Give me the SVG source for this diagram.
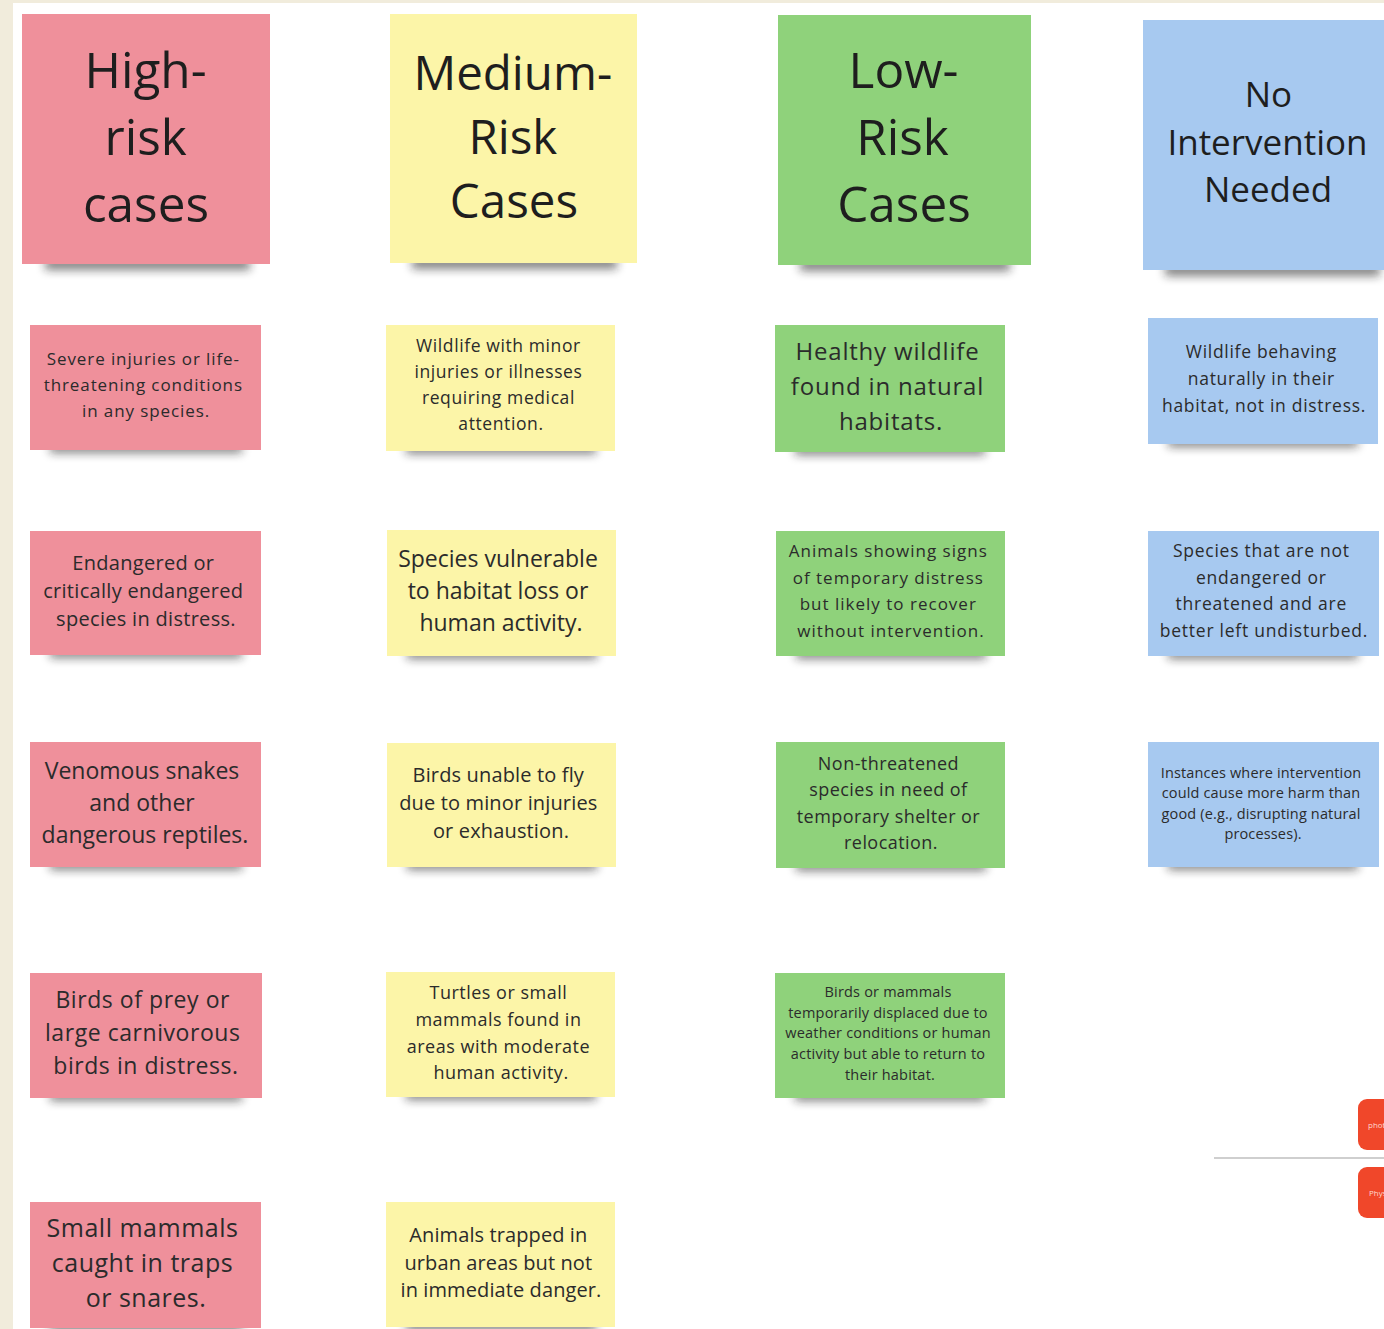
<svg xmlns="http://www.w3.org/2000/svg" width="1384" height="1329" viewBox="0 0 1384 1329">
  <defs>
    <filter id="soft" x="-20%" y="-200%" width="140%" height="500%">
      <feGaussianBlur stdDeviation="5"/>
    </filter>
    <style>
      .txt { font-family: "Open Sans", "Noto Sans", "DejaVu Sans", sans-serif; fill: #2b2b2b; text-anchor: middle; }
      .head { fill: #1e1e1e; }
      .shadow { fill: #1a1a1a; opacity: 0.55; filter: url(#soft); }
      .red { fill: #ef909b; }
      .yellow { fill: #fcf5a8; }
      .green { fill: #8fd27b; }
      .blue { fill: #a7c9f0; }
      .tab { fill: #f0472a; }
    </style>
  </defs>

  <!-- board -->
  <rect x="0" y="0" width="1384" height="1329" fill="#ffffff"/>
  <rect x="0" y="0" width="1384" height="3" fill="#f1ecdc"/>
  <rect x="0" y="0" width="13" height="1329" fill="#f1ecdc"/>

  <!-- column headers -->
  <g id="head-high">
    <rect class="shadow" x="45" y="258" width="205" height="12"/>
    <rect class="red" x="22" y="14" width="248" height="250"/>
    <text class="txt head" font-size="49.5">
      <tspan x="152" y="88">High-</tspan>
      <tspan x="152" y="155">risk</tspan>
      <tspan x="146" y="222">cases</tspan>
    </text>
  </g>
  <g id="head-medium">
    <rect class="shadow" x="412" y="257" width="205" height="12"/>
    <rect class="yellow" x="390" y="14" width="247" height="249"/>
    <text class="txt head" font-size="47.5">
      <tspan x="519" y="90">Medium-</tspan>
      <tspan x="519" y="154">Risk</tspan>
      <tspan x="514" y="218">Cases</tspan>
    </text>
  </g>
  <g id="head-low">
    <rect class="shadow" x="800" y="259" width="210" height="12"/>
    <rect class="green" x="778" y="15" width="253" height="250"/>
    <text class="txt head" font-size="49.5">
      <tspan x="910" y="88">Low-</tspan>
      <tspan x="909" y="155">Risk</tspan>
      <tspan x="904" y="222">Cases</tspan>
    </text>
  </g>
  <g id="head-none">
    <rect class="shadow" x="1165" y="264" width="215" height="12"/>
    <rect class="blue" x="1143" y="20" width="245" height="250"/>
    <text class="txt head" font-size="35">
      <tspan x="1273" y="107">No</tspan>
      <tspan x="1272" y="155">Intervention</tspan>
      <tspan x="1268" y="202">Needed</tspan>
    </text>
  </g>

  <!-- row 1 -->
  <g id="high-1">
    <rect class="shadow" x="50" y="443" width="192" height="10"/>
    <rect class="red" x="30" y="325" width="231" height="125"/>
    <text class="txt" font-size="17" letter-spacing="0.9">
      <tspan x="146" y="365">Severe injuries or life-</tspan>
      <tspan x="146" y="391">threatening conditions</tspan>
      <tspan x="146" y="417">in any species.</tspan>
    </text>
  </g>
  <g id="medium-1">
    <rect class="shadow" x="406" y="444" width="190" height="10"/>
    <rect class="yellow" x="386" y="325" width="229" height="126"/>
    <text class="txt" font-size="17.5" letter-spacing="0.6">
      <tspan x="501" y="352">Wildlife with minor</tspan>
      <tspan x="501" y="378">injuries or illnesses</tspan>
      <tspan x="501" y="404">requiring medical</tspan>
      <tspan x="501" y="430">attention.</tspan>
    </text>
  </g>
  <g id="low-1">
    <rect class="shadow" x="795" y="445" width="190" height="10"/>
    <rect class="green" x="775" y="325" width="230" height="127"/>
    <text class="txt" font-size="24" letter-spacing="0.8">
      <tspan x="891" y="360">Healthy wildlife</tspan>
      <tspan x="891" y="395">found in natural</tspan>
      <tspan x="891" y="430">habitats.</tspan>
    </text>
  </g>
  <g id="none-1">
    <rect class="shadow" x="1168" y="437" width="190" height="10"/>
    <rect class="blue" x="1148" y="318" width="230" height="126"/>
    <text class="txt" font-size="17.5" letter-spacing="0.7">
      <tspan x="1264" y="358">Wildlife behaving</tspan>
      <tspan x="1264" y="385">naturally in their</tspan>
      <tspan x="1264" y="412">habitat, not in distress.</tspan>
    </text>
  </g>

  <!-- row 2 -->
  <g id="high-2">
    <rect class="shadow" x="50" y="648" width="192" height="10"/>
    <rect class="red" x="30" y="531" width="231" height="124"/>
    <text class="txt" font-size="20" letter-spacing="0.3">
      <tspan x="146" y="570">Endangered or</tspan>
      <tspan x="146" y="598">critically endangered</tspan>
      <tspan x="146" y="626">species in distress.</tspan>
    </text>
  </g>
  <g id="medium-2">
    <rect class="shadow" x="407" y="649" width="190" height="10"/>
    <rect class="yellow" x="387" y="530" width="229" height="126"/>
    <text class="txt" font-size="23">
      <tspan x="501" y="567">Species vulnerable</tspan>
      <tspan x="501" y="599">to habitat loss or</tspan>
      <tspan x="501" y="631">human activity.</tspan>
    </text>
  </g>
  <g id="low-2">
    <rect class="shadow" x="796" y="649" width="190" height="10"/>
    <rect class="green" x="776" y="531" width="229" height="125"/>
    <text class="txt" font-size="17" letter-spacing="1">
      <tspan x="891" y="557">Animals showing signs</tspan>
      <tspan x="891" y="584">of temporary distress</tspan>
      <tspan x="891" y="610">but likely to recover</tspan>
      <tspan x="891" y="637">without intervention.</tspan>
    </text>
  </g>
  <g id="none-2">
    <rect class="shadow" x="1168" y="649" width="190" height="10"/>
    <rect class="blue" x="1148" y="531" width="231" height="125"/>
    <text class="txt" font-size="17.5" letter-spacing="0.75">
      <tspan x="1264" y="557">Species that are not</tspan>
      <tspan x="1264" y="584">endangered or</tspan>
      <tspan x="1264" y="610">threatened and are</tspan>
      <tspan x="1264" y="637">better left undisturbed.</tspan>
    </text>
  </g>

  <!-- row 3 -->
  <g id="high-3">
    <rect class="shadow" x="50" y="860" width="192" height="10"/>
    <rect class="red" x="30" y="742" width="231" height="125"/>
    <text class="txt" font-size="23">
      <tspan x="145" y="779">Venomous snakes</tspan>
      <tspan x="145" y="811">and other</tspan>
      <tspan x="145" y="843">dangerous reptiles.</tspan>
    </text>
  </g>
  <g id="medium-3">
    <rect class="shadow" x="407" y="860" width="190" height="10"/>
    <rect class="yellow" x="387" y="743" width="229" height="124"/>
    <text class="txt" font-size="20" letter-spacing="0.15">
      <tspan x="501" y="782">Birds unable to fly</tspan>
      <tspan x="501" y="810">due to minor injuries</tspan>
      <tspan x="501" y="838">or exhaustion.</tspan>
    </text>
  </g>
  <g id="low-3">
    <rect class="shadow" x="796" y="861" width="190" height="10"/>
    <rect class="green" x="776" y="742" width="229" height="126"/>
    <text class="txt" font-size="18" letter-spacing="0.45">
      <tspan x="891" y="770">Non-threatened</tspan>
      <tspan x="891" y="796">species in need of</tspan>
      <tspan x="891" y="823">temporary shelter or</tspan>
      <tspan x="891" y="849">relocation.</tspan>
    </text>
  </g>
  <g id="none-3">
    <rect class="shadow" x="1168" y="860" width="190" height="10"/>
    <rect class="blue" x="1148" y="742" width="231" height="125"/>
    <text class="txt" font-size="14.5" letter-spacing="0.15">
      <tspan x="1263" y="778">Instances where intervention</tspan>
      <tspan x="1263" y="798">could cause more harm than</tspan>
      <tspan x="1263" y="819">good (e.g., disrupting natural</tspan>
      <tspan x="1263" y="839">processes).</tspan>
    </text>
  </g>

  <!-- row 4 -->
  <g id="high-4">
    <rect class="shadow" x="50" y="1091" width="192" height="10"/>
    <rect class="red" x="30" y="973" width="232" height="125"/>
    <text class="txt" font-size="23" letter-spacing="0.55">
      <tspan x="146" y="1008">Birds of prey or</tspan>
      <tspan x="146" y="1041">large carnivorous</tspan>
      <tspan x="146" y="1074">birds in distress.</tspan>
    </text>
  </g>
  <g id="medium-4">
    <rect class="shadow" x="406" y="1090" width="190" height="10"/>
    <rect class="yellow" x="386" y="972" width="229" height="125"/>
    <text class="txt" font-size="18" letter-spacing="0.5">
      <tspan x="501" y="999">Turtles or small</tspan>
      <tspan x="501" y="1026">mammals found in</tspan>
      <tspan x="501" y="1053">areas with moderate</tspan>
      <tspan x="501" y="1079">human activity.</tspan>
    </text>
  </g>
  <g id="low-4">
    <rect class="shadow" x="795" y="1091" width="190" height="10"/>
    <rect class="green" x="775" y="973" width="230" height="125"/>
    <text class="txt" font-size="14.5" letter-spacing="0.2">
      <tspan x="890" y="997">Birds or mammals</tspan>
      <tspan x="890" y="1018">temporarily displaced due to</tspan>
      <tspan x="890" y="1038">weather conditions or human</tspan>
      <tspan x="890" y="1059">activity but able to return to</tspan>
      <tspan x="890" y="1080">their habitat.</tspan>
    </text>
  </g>

  <!-- row 5 -->
  <g id="high-5">
    <rect class="shadow" x="50" y="1322" width="192" height="10"/>
    <rect class="red" x="30" y="1202" width="231" height="126"/>
    <text class="txt" font-size="25" letter-spacing="0.5">
      <tspan x="146" y="1237">Small mammals</tspan>
      <tspan x="146" y="1272">caught in traps</tspan>
      <tspan x="146" y="1307">or snares.</tspan>
    </text>
  </g>
  <g id="medium-5">
    <rect class="shadow" x="406" y="1321" width="190" height="10"/>
    <rect class="yellow" x="386" y="1202" width="229" height="125"/>
    <text class="txt" font-size="20" letter-spacing="0.1">
      <tspan x="501" y="1242">Animals trapped in</tspan>
      <tspan x="501" y="1270">urban areas but not</tspan>
      <tspan x="501" y="1297">in immediate danger.</tspan>
    </text>
  </g>

  <!-- side tabs, cut off at the right edge -->
  <g id="tab-photo">
    <rect class="tab" x="1358" y="1099" width="40" height="51" rx="9"/>
    <text x="1368" y="1128" font-family="Open Sans, sans-serif" font-size="8" fill="#ffd9cf">photo</text>
  </g>
  <line x1="1214" y1="1158" x2="1384" y2="1158" stroke="#cfcfcf" stroke-width="2"/>
  <g id="tab-phys">
    <rect class="tab" x="1358" y="1167" width="40" height="51" rx="9"/>
    <text x="1369" y="1196" font-family="Open Sans, sans-serif" font-size="8" fill="#ffd9cf">Phys</text>
  </g>
</svg>
